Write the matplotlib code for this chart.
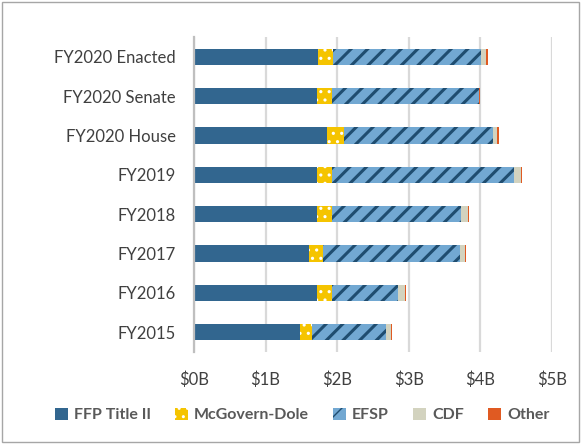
import matplotlib.pyplot as plt
from matplotlib.patches import Rectangle

# Categories from bottom to top
years = ["FY2015", "FY2016", "FY2017", "FY2018", "FY2019",
         "FY2020 House", "FY2020 Senate", "FY2020 Enacted"]

# Funding in $ billions
ffp_title2 = [1.48, 1.716, 1.60, 1.716, 1.716, 1.86, 1.716, 1.734]
mcgovern_dole = [0.175, 0.21, 0.20, 0.21, 0.21, 0.23, 0.21, 0.21]
efsp = [1.025, 0.93, 1.92, 1.80, 2.55, 2.08, 2.06, 2.06]
cdf = [0.07, 0.09, 0.06, 0.10, 0.09, 0.06, 0.0, 0.08]
other = [0.016, 0.02, 0.02, 0.02, 0.02, 0.03, 0.015, 0.02]

xticks = [0, 1, 2, 3, 4, 5]
xtick_labels = ["$0B", "$1B", "$2B", "$3B", "$4B", "$5B"]

plt.rcParams["font.family"] = ["Lato", "DejaVu Sans"]

fig = plt.figure(figsize=(5.81, 4.44), dpi=100)
ax = fig.add_axes([194 / 581, 1 - 352 / 444, (552 - 194) / 581, (352 - 37) / 444])

y = range(len(years))
h = 0.41
left = [0.0] * len(years)

series = [
    ("FFP Title II", ffp_title2, dict(color="#32668f"), 1.0),
    ("McGovern-Dole", mcgovern_dole, dict(facecolor="#f5c400", edgecolor="white", hatch="..", linewidth=0), 1.1),
    ("EFSP", efsp, dict(facecolor="#72a8d2", edgecolor="#1f4d70", hatch="//", linewidth=0), 2.2),
    ("CDF", cdf, dict(color="#d3d3bf"), 1.0),
    ("Other", other, dict(color="#e05a22"), 1.0),
]

for name, vals, style, hlw in series:
    with plt.rc_context({"hatch.linewidth": hlw}):
        ax.barh(y, vals, height=h, left=left, label=name, **style)
    left = [a + b for a, b in zip(left, vals)]

ax.set_xlim(0, 5)
ax.set_ylim(-0.5, len(years) - 0.5)
ax.set_xticks(xticks)
ax.set_xticklabels(xtick_labels)
ax.set_yticks(list(y))
ax.set_yticklabels(years)
ax.tick_params(axis="both", length=0, labelsize=12, labelcolor="#404040")
ax.tick_params(axis="x", pad=14)
ax.tick_params(axis="y", pad=13)
ax.grid(axis="x", color="#d9d9d9", linewidth=1.6)
ax.set_axisbelow(True)
for s in ["top", "right", "bottom"]:
    ax.spines[s].set_visible(False)
ax.spines["left"].set_color("#bfbfbf")
ax.spines["left"].set_linewidth(1.6)

leg = fig.legend(loc="center", bbox_to_anchor=(0.52, 1 - 415 / 444), ncol=5, frameon=False,
                 handlelength=0.8, handleheight=0.8, handletextpad=0.4, columnspacing=1.5,
                 prop={"size": 11.5, "weight": "bold"})
for t in leg.get_texts():
    t.set_color("#595959")

fig.patches.append(Rectangle((0.004, 0.005), 0.992, 0.99, transform=fig.transFigure,
                             fill=False, edgecolor="#a6a6a6", linewidth=1))

fig.savefig("out.png", dpi=100)
